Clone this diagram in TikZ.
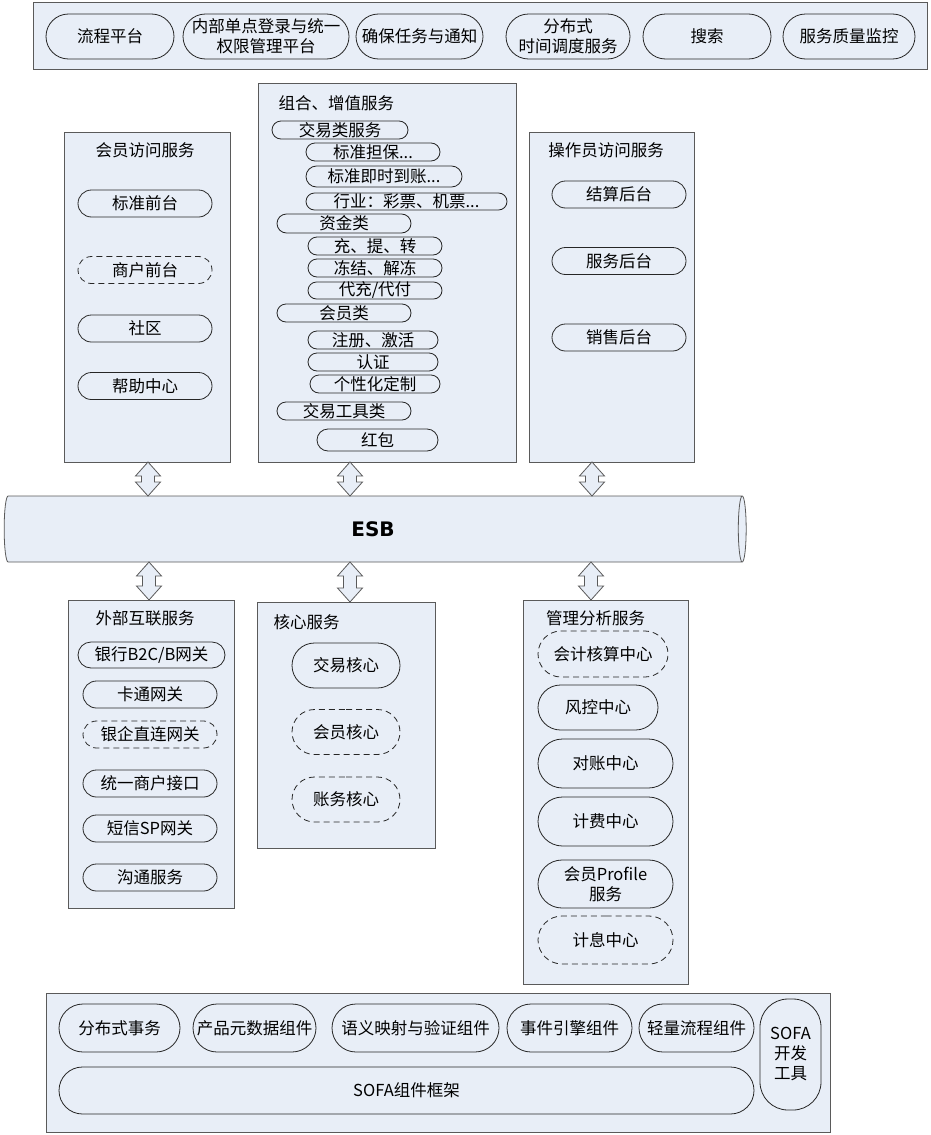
\documentclass[tikz,border=0pt]{standalone}
\usepackage{fontspec}
\setmainfont{Noto Sans CJK SC}
\newfontfamily\esbfont{DejaVu Sans}
\usetikzlibrary{shapes.misc,shapes.geometric,calc}
\definecolor{boxblue}{HTML}{E8EEF7}
\definecolor{edgegray}{HTML}{5A5A5A}
% double block arrow from #1 (upper end) down to #2 (lower end)
\newcommand\fatarrow[2]{%
  \draw[fatarr] let \p1=(#1), \p2=(#2) in
    (\x1,\y1) -- (\x1+12.5pt,\y1-14pt) -- (\x1+6.5pt,\y1-14pt) -- (\x1+6.5pt,\y2+14pt)
    -- (\x1+12.5pt,\y2+14pt) -- (\x1,\y2) -- (\x1-12.5pt,\y2+14pt) -- (\x1-6.5pt,\y2+14pt)
    -- (\x1-6.5pt,\y1-14pt) -- (\x1-12.5pt,\y1-14pt) -- cycle;}

\begin{document}
\begin{tikzpicture}[x=1pt,y=-1pt,line width=0.8pt,
  every node/.style={font=\fontsize{16.5}{20}\selectfont},
  panel/.style={draw=edgegray,fill=boxblue,anchor=north west,inner sep=0pt,outer sep=0pt},
  pill/.style 2 args={rounded rectangle,draw=black!85,fill=boxblue,minimum width=#1,
    minimum height=#2,inner sep=0pt,align=center},
  dpill/.style 2 args={pill={#1}{#2},dash pattern=on 6pt off 4pt},
  fatarr/.style={draw=edgegray,fill=boxblue,line width=0.8pt}]
\useasboundingbox (0,0) rectangle (930,1135);
% top platform bar
\node[panel,minimum width=894,minimum height=67] (top) at (33,2) {};
\foreach \x/\w/\t [count=\i] in {110/128/流程平台,266/166/{内部单点登录与统一\\权限管理平台},
    419.5/127/确保任务与通知,568/124/{分布式\\时间调度服务},707/128/搜索,849/132/服务质量监控}
  \node[pill={\w}{45}] (top\i) at (\x,36.5) {\t};
% member access
\node[panel,minimum width=166,minimum height=330] (mem) at (64,132) {};
\node (memt) at (145,150) {会员访问服务};
\node[pill={134}{27}] (mem1) at (145,203.5) {标准前台};
\node[dpill={134}{27}] (mem2) at (145,270) {商户前台};
\node[pill={134}{27}] (mem3) at (145,328.5) {社区};
\node[pill={134}{27}] (mem4) at (145,386) {帮助中心};
% combined / value-added services
\node[panel,minimum width=258,minimum height=379] (val) at (258,83) {};
\node[anchor=west] (valt) at (275,103) {组合、增值服务};
\node[pill={136}{18}] (val1) at (340,130) {交易类服务};
\node[pill={134}{18}] (val2) at (373,152) {标准担保...};
\node[pill={156}{21}] (val3) at (384,176.5) {标准即时到账...};
\node[pill={201}{17}] (val4) at (406.5,201.5) {行业：彩票、机票...};
\node[pill={134}{19}] (val5) at (344,223.5) {资金类};
\node[pill={134}{18}] (val6) at (375,246) {充、提、转};
\node[pill={134}{18}] (val7) at (375,268) {冻结、解冻};
\node[pill={134}{17}] (val8) at (375,290.5) {代充/代付};
\node[pill={134}{18}] (val9) at (344,313) {会员类};
\node[pill={130}{18}] (val10) at (373,340) {注册、激活};
\node[pill={130}{18}] (val11) at (373,362) {认证};
\node[pill={130}{18}] (val12) at (375,384) {个性化定制};
\node[pill={134}{18}] (val13) at (344,411) {交易工具类};
\node[pill={121}{22}] (val14) at (377.5,440) {红包};
% operator access
\node[panel,minimum width=165,minimum height=330] (opr) at (529,132) {};
\node (oprt) at (606,150) {操作员访问服务};
\foreach \y/\t [count=\i] in {194.5/结算后台,261/服务后台,337.5/销售后台}
  \node[pill={134}{27}] (opr\i) at (619,\y) {\t};
% bus
\node[cylinder,draw=edgegray,fill=boxblue,minimum height=742,minimum width=66,aspect=0.52,
  inner sep=0pt,outer sep=0pt,font=\esbfont\bfseries\fontsize{20}{24}\selectfont] (esb) at (373,529) {ESB};
\foreach \x/\b [count=\i] in {148/mem,350/val,592/opr} {
  \coordinate (u\i) at (\x,0);
  \fatarrow{u\i |- \b.south}{u\i |- esb.north}
}
% external services
\node[panel,minimum width=166,minimum height=308] (ext) at (68,600) {};
\node (extt) at (145,618) {外部互联服务};
\node[pill={147}{26}] (ext1) at (151.5,655) {银行B2C/B网关};
\node[pill={134}{27}] (ext2) at (150,694.5) {卡通网关};
\node[dpill={134}{27}] (ext3) at (150,734.5) {银企直连网关};
\node[pill={134}{27}] (ext4) at (150,783.5) {统一商户接口};
\node[pill={134}{27}] (ext5) at (150,828.5) {短信SP网关};
\node[pill={134}{27}] (ext6) at (150,877.5) {沟通服务};
% core services
\node[panel,minimum width=178,minimum height=246] (core) at (257,602) {};
\node[anchor=west] (coret) at (270,622) {核心服务};
\node[pill={108}{45}] (core1) at (346,665.5) {交易核心};
\node[dpill={108}{45}] (core2) at (346,732) {会员核心};
\node[dpill={108}{45}] (core3) at (346,799.5) {账务核心};
% management analysis
\node[panel,minimum width=165,minimum height=384] (mgt) at (523,600) {};
\node (mgtt) at (595.5,618) {管理分析服务};
\node[dpill={130}{46}] (mgt1) at (603,654) {会计核算中心};
\node[pill={120}{45}] (mgt2) at (598,707.5) {风控中心};
\node[pill={135}{49}] (mgt3) at (605.5,763.5) {对账中心};
\node[pill={135}{49}] (mgt4) at (605.5,821.5) {计费中心};
\node[pill={135}{48}] (mgt5) at (605.5,884) {会员Profile\\服务};
\node[dpill={135}{48}] (mgt6) at (605.5,940) {计息中心};
\foreach \x/\b [count=\i] in {149/ext,350/core,591/mgt} {
  \coordinate (d\i) at (\x,0);
  \fatarrow{d\i |- esb.south}{d\i |- \b.north}
}
% SOFA component layer
\node[panel,minimum width=784,minimum height=139] (sofa) at (46,993) {};
\foreach \x/\w/\t [count=\i] in {119.5/121/分布式事务,254.5/123/产品元数据组件,415.5/167/语义映射与验证组件,
    569.5/125/事件引擎组件,696.5/115/轻量流程组件}
  \node[pill={\w}{48}] (sofa\i) at (\x,1028) {\t};
\node[pill={695}{47}] (frame) at (406.5,1090.5) {SOFA组件框架};
\node[draw=black!85,fill=boxblue,rounded corners=28pt,minimum width=61,minimum height=111,
  inner sep=0pt,align=center] (tool) at (790.5,1054.5) {SOFA\\开发\\工具};
\end{tikzpicture}
\end{document}
